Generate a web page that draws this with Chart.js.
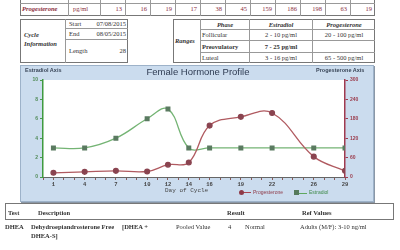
<!DOCTYPE html>
<html><head><meta charset="utf-8">
<script src="https://cdn.jsdelivr.net/npm/chart.js@4/dist/chart.umd.min.js"></script>
<style>
html,body{margin:0;padding:0;background:#fff;width:400px;height:250px;overflow:hidden;}
body{position:relative;font-family:"Liberation Serif","DejaVu Serif",serif;color:#333;}
.a{position:absolute;white-space:nowrap;line-height:1;}
.box{position:absolute;border:1px solid #777;box-sizing:border-box;}
.hl{position:absolute;height:0;border-top:1px solid #999;}
.vl{position:absolute;width:0;border-left:1px solid #999;}
.s{font-size:6.5px;}
.b{font-weight:bold;}
.i{font-style:italic;}
.r{text-align:right;}
.c{text-align:center;transform:translateX(-50%);}
#panel{position:absolute;left:20px;top:65px;width:354px;height:137px;background:#cbdcee;border:1px solid #9db2c9;box-sizing:border-box;box-shadow:1px 1px 0 #8a97a6;}
#cv{position:absolute;left:20px;top:65px;}
.sans{font-family:"Liberation Sans",Arial,sans-serif;}
.mono{font-family:"Liberation Mono","DejaVu Sans Mono",monospace;}
</style></head><body>

<!-- top table -->
<div class="box" style="left:20px;top:-8px;width:355px;height:24px;"></div>
<div class="hl" style="left:20px;top:3px;width:355px;"></div>
<div id="topcols"></div>
<div class="a s i b" style="left:22px;top:6px;color:#8b2d3c;">Progesterone</div>
<div class="a s" style="left:73px;top:6px;color:#8b2d3c;">pg/ml</div>
<div class="a s" style="left:22px;top:-5px;color:#2d4f8b;">Estradiol</div>

<!-- cycle info -->
<div class="box" style="left:20px;top:19px;width:108px;height:44px;"></div>
<div class="vl" style="left:65px;top:19px;height:44px;"></div>
<div class="hl" style="left:65px;top:28px;width:63px;"></div>
<div class="hl" style="left:65px;top:39px;width:63px;"></div>
<div class="a s i b" style="left:24px;top:32px;">Cycle</div>
<div class="a s i b" style="left:24px;top:41px;">Information</div>
<div class="a s" style="left:69px;top:21px;">Start</div>
<div class="a s r" style="left:90px;width:36px;top:21px;">07/08/2015</div>
<div class="a s" style="left:69px;top:31px;">End</div>
<div class="a s r" style="left:90px;width:36px;top:31px;">08/05/2015</div>
<div class="a s" style="left:69px;top:48px;">Length</div>
<div class="a s r" style="left:90px;width:36px;top:48px;">28</div>

<!-- ranges -->
<div class="box" style="left:173px;top:19px;width:202px;height:44px;"></div>
<div class="vl" style="left:200px;top:19px;height:44px;"></div>
<div class="vl" style="left:249px;top:19px;height:44px;"></div>
<div class="vl" style="left:312px;top:19px;height:44px;"></div>
<div class="hl" style="left:200px;top:29px;width:175px;"></div>
<div class="hl" style="left:200px;top:40px;width:175px;"></div>
<div class="hl" style="left:200px;top:52px;width:175px;"></div>
<div class="a s i b" style="left:175px;top:38px;">Ranges</div>
<div class="a s i b c" style="left:225px;top:22px;">Phase</div>
<div class="a s i b c" style="left:281px;top:22px;">Estradiol</div>
<div class="a s i b c" style="left:344px;top:22px;">Progesterone</div>
<div class="a s" style="left:202px;top:32px;">Follicular</div>
<div class="a s c" style="left:281px;top:32px;">2 - 10 pg/ml</div>
<div class="a s c" style="left:344px;top:32px;">20 - 100 pg/ml</div>
<div class="a s b" style="left:202px;top:44px;">Preovulatory</div>
<div class="a s b c" style="left:281px;top:44px;">7 - 25 pg/ml</div>
<div class="a s" style="left:202px;top:55px;">Luteal</div>
<div class="a s c" style="left:281px;top:55px;">3 - 16 pg/ml</div>
<div class="a s c" style="left:344px;top:55px;">65 - 500 pg/ml</div>

<!-- chart panel -->
<div id="panel"></div>
<canvas id="cv" width="354" height="137" style="width:354px;height:137px;"></canvas>
<div class="a sans b" style="left:25px;top:68px;font-size:5.5px;color:#3a4658;">Estradiol Axis</div>
<div class="a sans b" style="left:316px;top:68px;font-size:5.5px;color:#3a4658;">Progesterone Axis</div>
<div class="a sans c" style="left:198px;top:67px;font-size:9.5px;color:#2e3b52;">Female Hormone Profile</div>
<div class="a mono" style="left:165px;top:188px;font-size:6px;color:#444;">Day of Cycle</div>
<div class="a" style="left:240px;top:192px;width:11px;border-top:1px solid #a84652;"></div>
<div class="a" style="left:239px;top:190px;width:5px;height:5px;border-radius:50%;background:#8e3a48;"></div>
<div class="a sans" style="left:253px;top:190px;font-size:5px;color:#8e3a48;">Progesterone</div>
<div class="a" style="left:297px;top:193px;width:10px;border-top:1px solid #5ea85e;"></div>
<div class="a" style="left:294px;top:190px;width:5px;height:5px;background:#557a5c;"></div>
<div class="a sans" style="left:309px;top:190px;font-size:5px;color:#3f8a4a;">Estradiol</div>

<!-- bottom table -->
<div class="box" style="left:5px;top:203px;width:389px;height:17px;"></div>
<div class="a s b" style="left:8px;top:210px;">Test</div>
<div class="a s b" style="left:38px;top:210px;">Description</div>
<div class="a s b" style="left:227px;top:210px;">Result</div>
<div class="a s b" style="left:302px;top:210px;">Ref Values</div>
<div class="a s b" style="left:5px;top:224px;">DHEA</div>
<div class="a s b" style="left:31px;top:224px;">Dehydroepiandrosterone Free</div>
<div class="a s b" style="left:122px;top:224px;">[DHEA +</div>
<div class="a s b" style="left:31px;top:233px;">DHEA-S]</div>
<div class="a s" style="left:176px;top:224px;">Pooled Value</div>
<div class="a s" style="left:228px;top:224px;">4</div>
<div class="a s" style="left:245px;top:224px;">Normal</div>
<div class="a s" style="left:300px;top:224px;">Adults (M/F): 3-10 ng/ml</div>

<script>
const days = [1, 4, 7, 10, 12, 14, 16, 19, 22, 26, 29];
const estradiol = [3, 3, 4, 6, 7, 3, 3, 3, 3, 3, 3];
const progesterone = [13, 16, 19, 17, 38, 45, 159, 186, 198, 63, 19];
const leftTicks = [0, 2, 4, 6, 8, 10];
const rightTicks = [0, 60, 120, 180, 240, 300];

// top table columns
(function(){
  const host = document.getElementById('topcols');
  let html = '';
  html += '<div class="vl" style="left:68px;top:-8px;height:24px;"></div>';
  for (let i = 0; i < days.length; i++) {
    const x0 = 100 + i * 25;
    html += '<div class="vl" style="left:' + x0 + 'px;top:-8px;height:24px;"></div>';
    html += '<div class="a s r" style="left:' + (x0 + 2) + 'px;width:20px;top:-5px;color:#2d4f8b;">' + estradiol[i] + '</div>';
    html += '<div class="a s r" style="left:' + (x0 + 2) + 'px;width:20px;top:6px;color:#8b2d3c;">' + progesterone[i] + '</div>';
  }
  host.innerHTML = html;
})();

const whiteArea = {
  id: 'whiteArea',
  beforeDraw(chart) {
    const {ctx, chartArea: a} = chart;
    ctx.save();
    ctx.fillStyle = '#ffffff';
    ctx.fillRect(a.left, a.top, a.right - a.left, a.bottom - a.top);
    ctx.restore();
  }
};

new Chart(document.getElementById('cv'), {
  type: 'line',
  data: {
    datasets: [
      {
        label: 'Progesterone',
        data: days.map((d, i) => ({x: d, y: progesterone[i]})),
        yAxisID: 'yR',
        borderColor: '#b05a60',
        borderWidth: 1.3,
        pointStyle: 'circle',
        pointRadius: 2.4,
        pointBackgroundColor: '#8a4450',
        pointBorderColor: '#8a4450',
        tension: 0.4,
        fill: false
      },
      {
        label: 'Estradiol',
        data: days.map((d, i) => ({x: d, y: estradiol[i]})),
        yAxisID: 'yL',
        borderColor: '#74b474',
        borderWidth: 1.3,
        pointStyle: 'rect',
        pointRadius: 2.6,
        pointBackgroundColor: '#5a7a60',
        pointBorderColor: '#5a7a60',
        tension: 0.4,
        fill: false
      }
    ]
  },
  options: {
    responsive: false,
    animation: false,
    devicePixelRatio: 1,
    layout: {padding: {top: 15, left: 0, right: 0, bottom: 0}},
    plugins: {legend: {display: false}, tooltip: {enabled: false}, title: {display: false}},
    scales: {
      x: {
        type: 'linear', min: 0, max: 29,
        afterFit(s) { s.height = 25; },
        afterBuildTicks(s) { const t = []; for (let v = 0; v <= 29; v++) t.push({value: v}); s.ticks = t; },
        ticks: {
          autoSkip: false, maxRotation: 0, padding: 1,
          font: {family: 'Liberation Mono', size: 5.5, weight: 'bold'}, color: '#444',
          callback: (v) => days.includes(v) ? String(v) : ''
        },
        grid: {drawOnChartArea: false, tickLength: 3, color: '#8a5a5a'},
        border: {color: '#666', width: 1}
      },
      yL: {
        position: 'left', min: 0, max: 10,
        afterFit(s) { s.width = 23; },
        afterBuildTicks(s) { s.ticks = leftTicks.map(v => ({value: v})); },
        ticks: {font: {family: 'Liberation Sans', size: 5, weight: 'bold'}, color: '#4f8a55', padding: 2},
        grid: {drawOnChartArea: false, tickLength: 3, color: '#4a9a4a'},
        border: {color: '#3f9a3f', width: 1.5}
      },
      yR: {
        position: 'right', min: 0, max: 300,
        afterFit(s) { s.width = 29; },
        afterBuildTicks(s) { s.ticks = rightTicks.map(v => ({value: v})); },
        ticks: {font: {family: 'Liberation Sans', size: 5, weight: 'bold'}, color: '#9a3a4a', padding: 2},
        grid: {drawOnChartArea: false, tickLength: 3, color: '#a03a50'},
        border: {color: '#a03a50', width: 1.5}
      }
    }
  },
  plugins: [whiteArea]
});
</script>
</body></html>
